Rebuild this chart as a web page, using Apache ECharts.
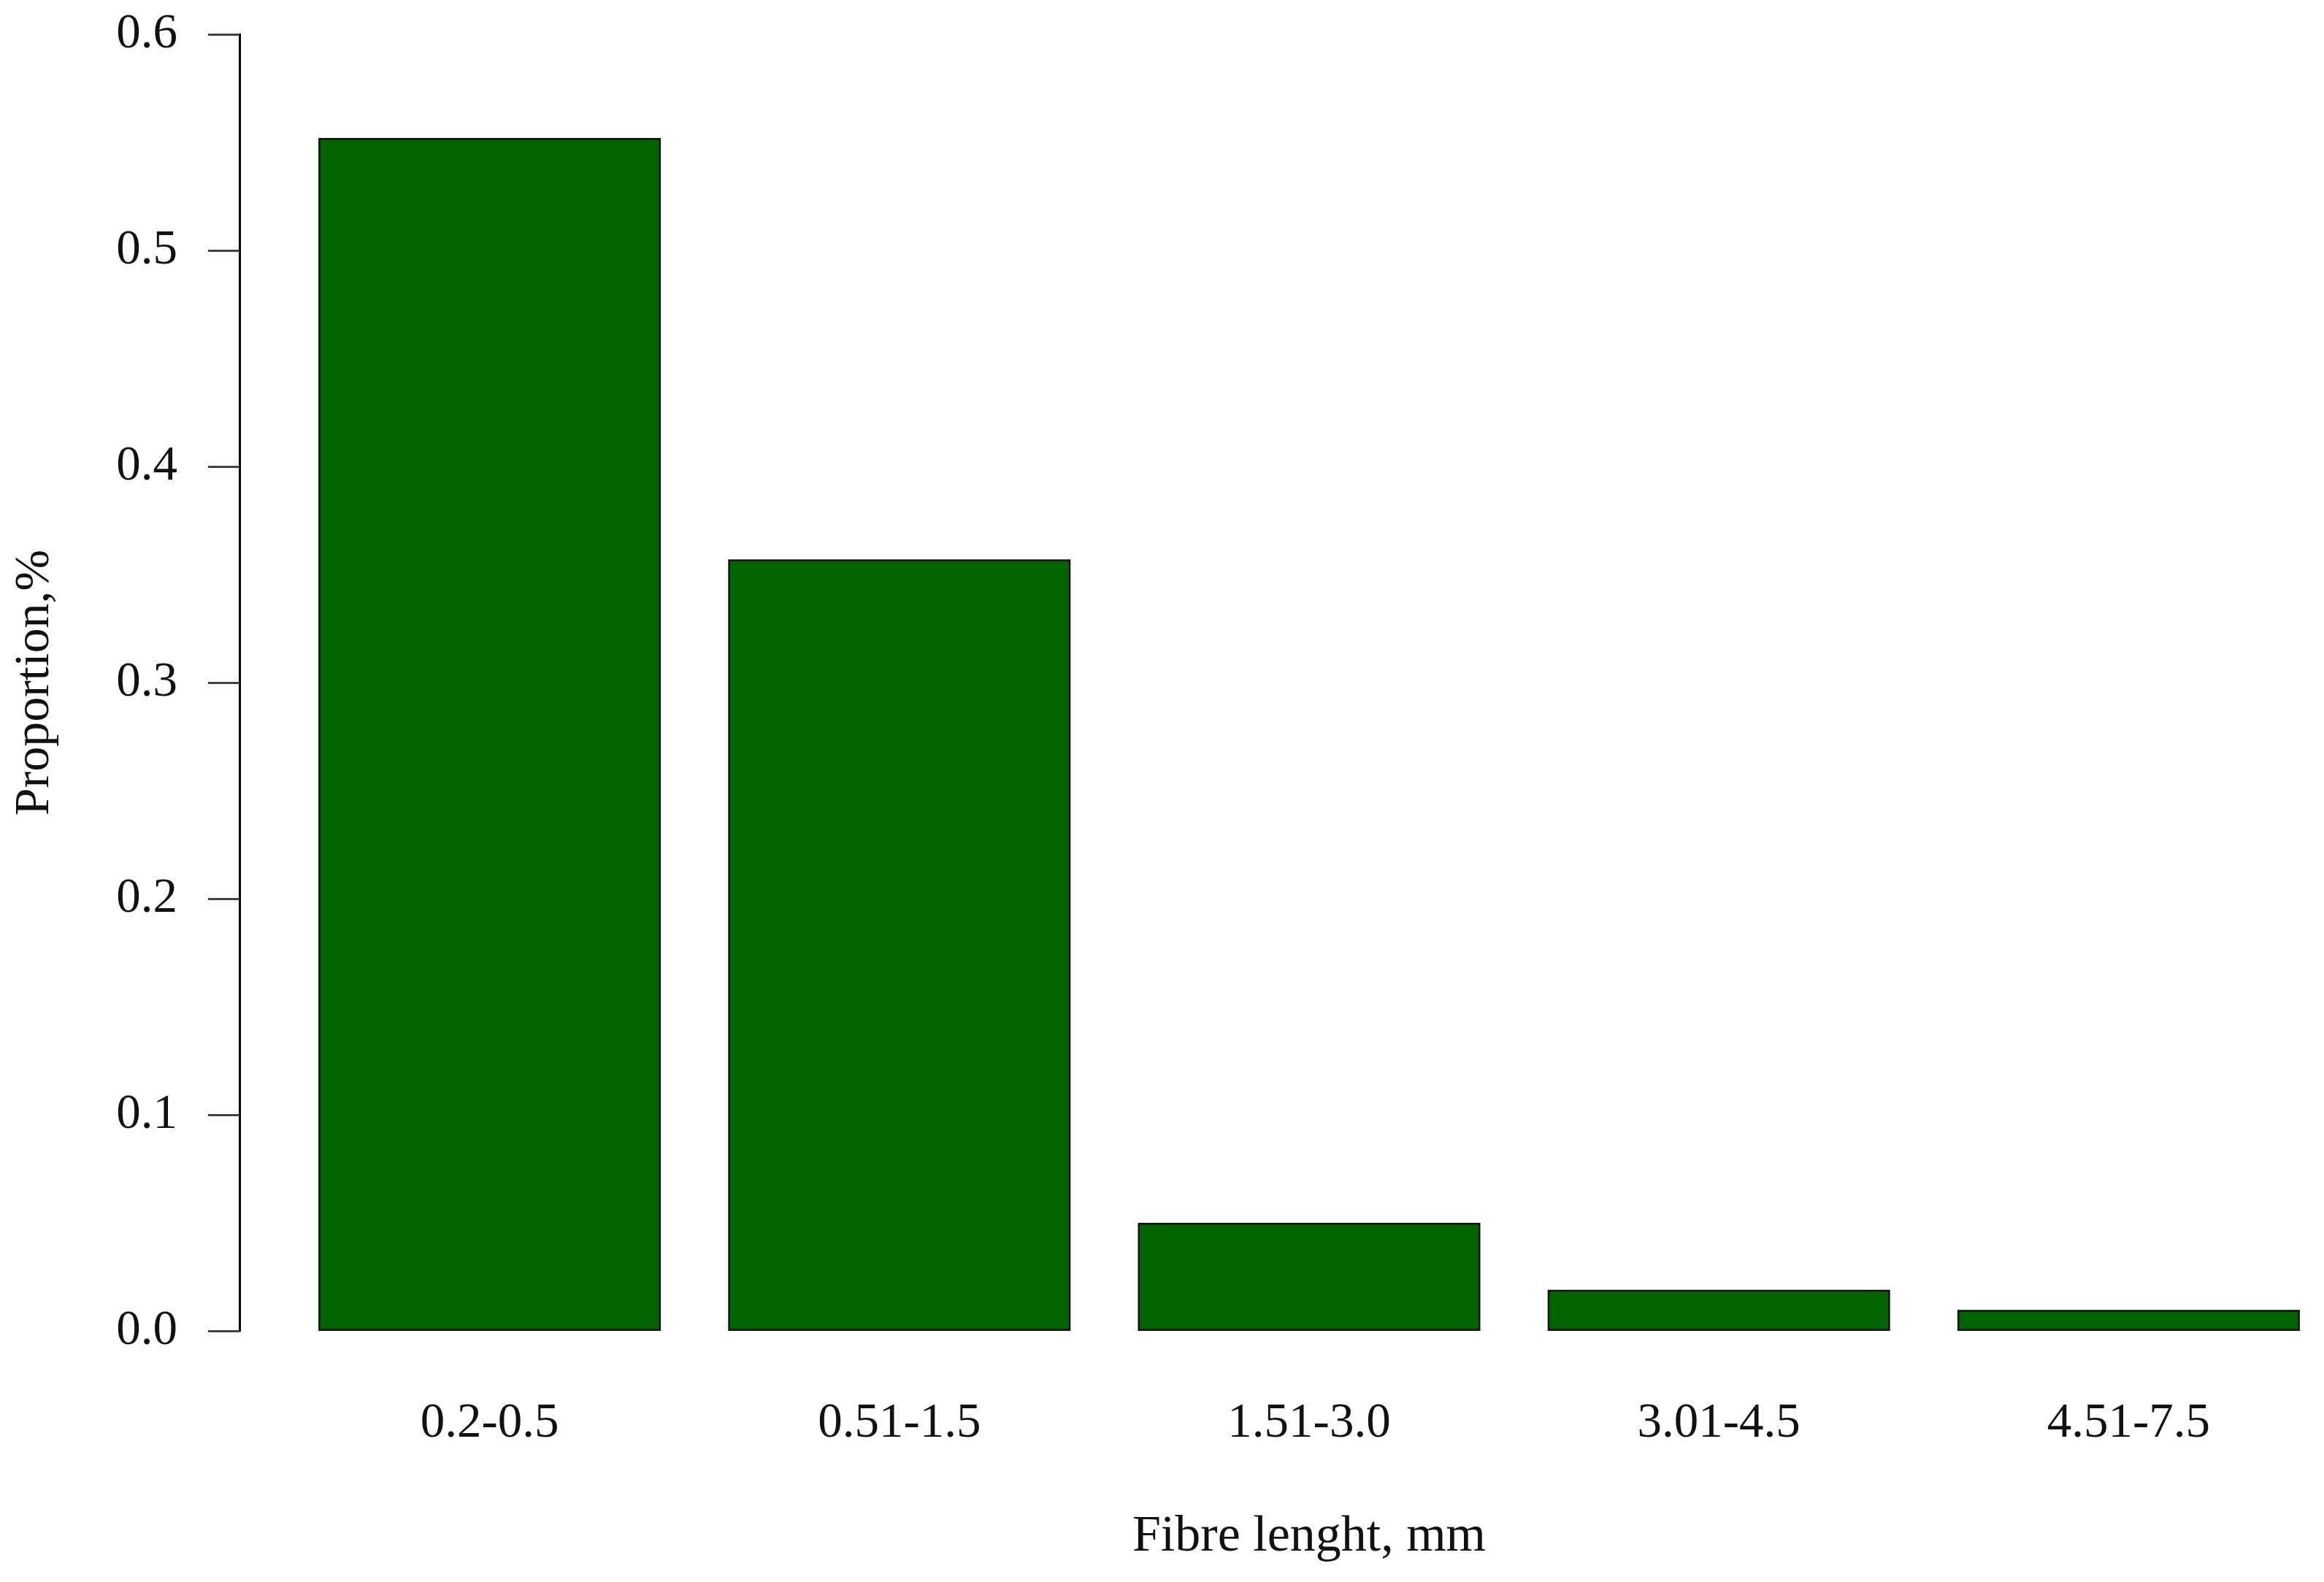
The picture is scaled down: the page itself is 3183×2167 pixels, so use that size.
<!DOCTYPE html>
<html>
<head>
<meta charset="utf-8">
<script src="https://cdn.jsdelivr.net/npm/echarts@6/dist/echarts.min.js"></script>
<style>
  html, body { margin: 0; padding: 0; background: #fff; overflow: hidden; }
  /* a bit wider than the window: the last bar's band runs past the right edge */
  #chart { width: 3200px; height: 2167px; }
</style>
</head>
<body>
<div id="chart"></div>
<script>
// fibre length classes and their proportions
const categories = ['0.2-0.5', '0.51-1.5', '1.51-3.0', '3.01-4.5', '4.51-7.5'];
const proportions = [0.552, 0.357, 0.05, 0.019, 0.0097];

const font = 'Liberation Serif';

const chart = echarts.init(document.getElementById('chart'));

const option = {
  backgroundColor: '#fff',
  animation: false,
  grid: {
    left: 390,
    top: 47,
    width: 2806,
    height: 1776
  },
  xAxis: {
    type: 'category',
    data: categories,
    name: 'Fibre lenght, mm',
    nameLocation: 'middle',
    nameGap: 248,
    nameTextStyle: { fontFamily: font, fontSize: 70, color: '#111' },
    axisLine: { show: false },
    axisTick: { show: false },
    axisLabel: { fontFamily: font, fontSize: 67, color: '#111', margin: 94 }
  },
  yAxis: {
    type: 'value',
    min: 0,
    max: 0.6,
    interval: 0.1,
    offset: 62,
    name: 'Proportion,%',
    nameLocation: 'middle',
    nameGap: 246,
    nameTextStyle: { fontFamily: font, fontSize: 68, color: '#111' },
    axisLine: { show: true, lineStyle: { color: '#000', width: 3 } },
    axisTick: { show: true, length: 43, lineStyle: { color: '#444', width: 3 } },
    axisLabel: {
      fontFamily: font,
      fontSize: 67,
      color: '#111',
      margin: 85,
      formatter: v => v.toFixed(1)
    },
    splitLine: { show: false }
  },
  series: [
    {
      type: 'bar',
      data: proportions,
      barWidth: 469,
      itemStyle: {
        color: '#006400',
        borderColor: '#111',
        borderWidth: 2.5
      }
    }
  ]
};

chart.setOption(option);
</script>
</body>
</html>
